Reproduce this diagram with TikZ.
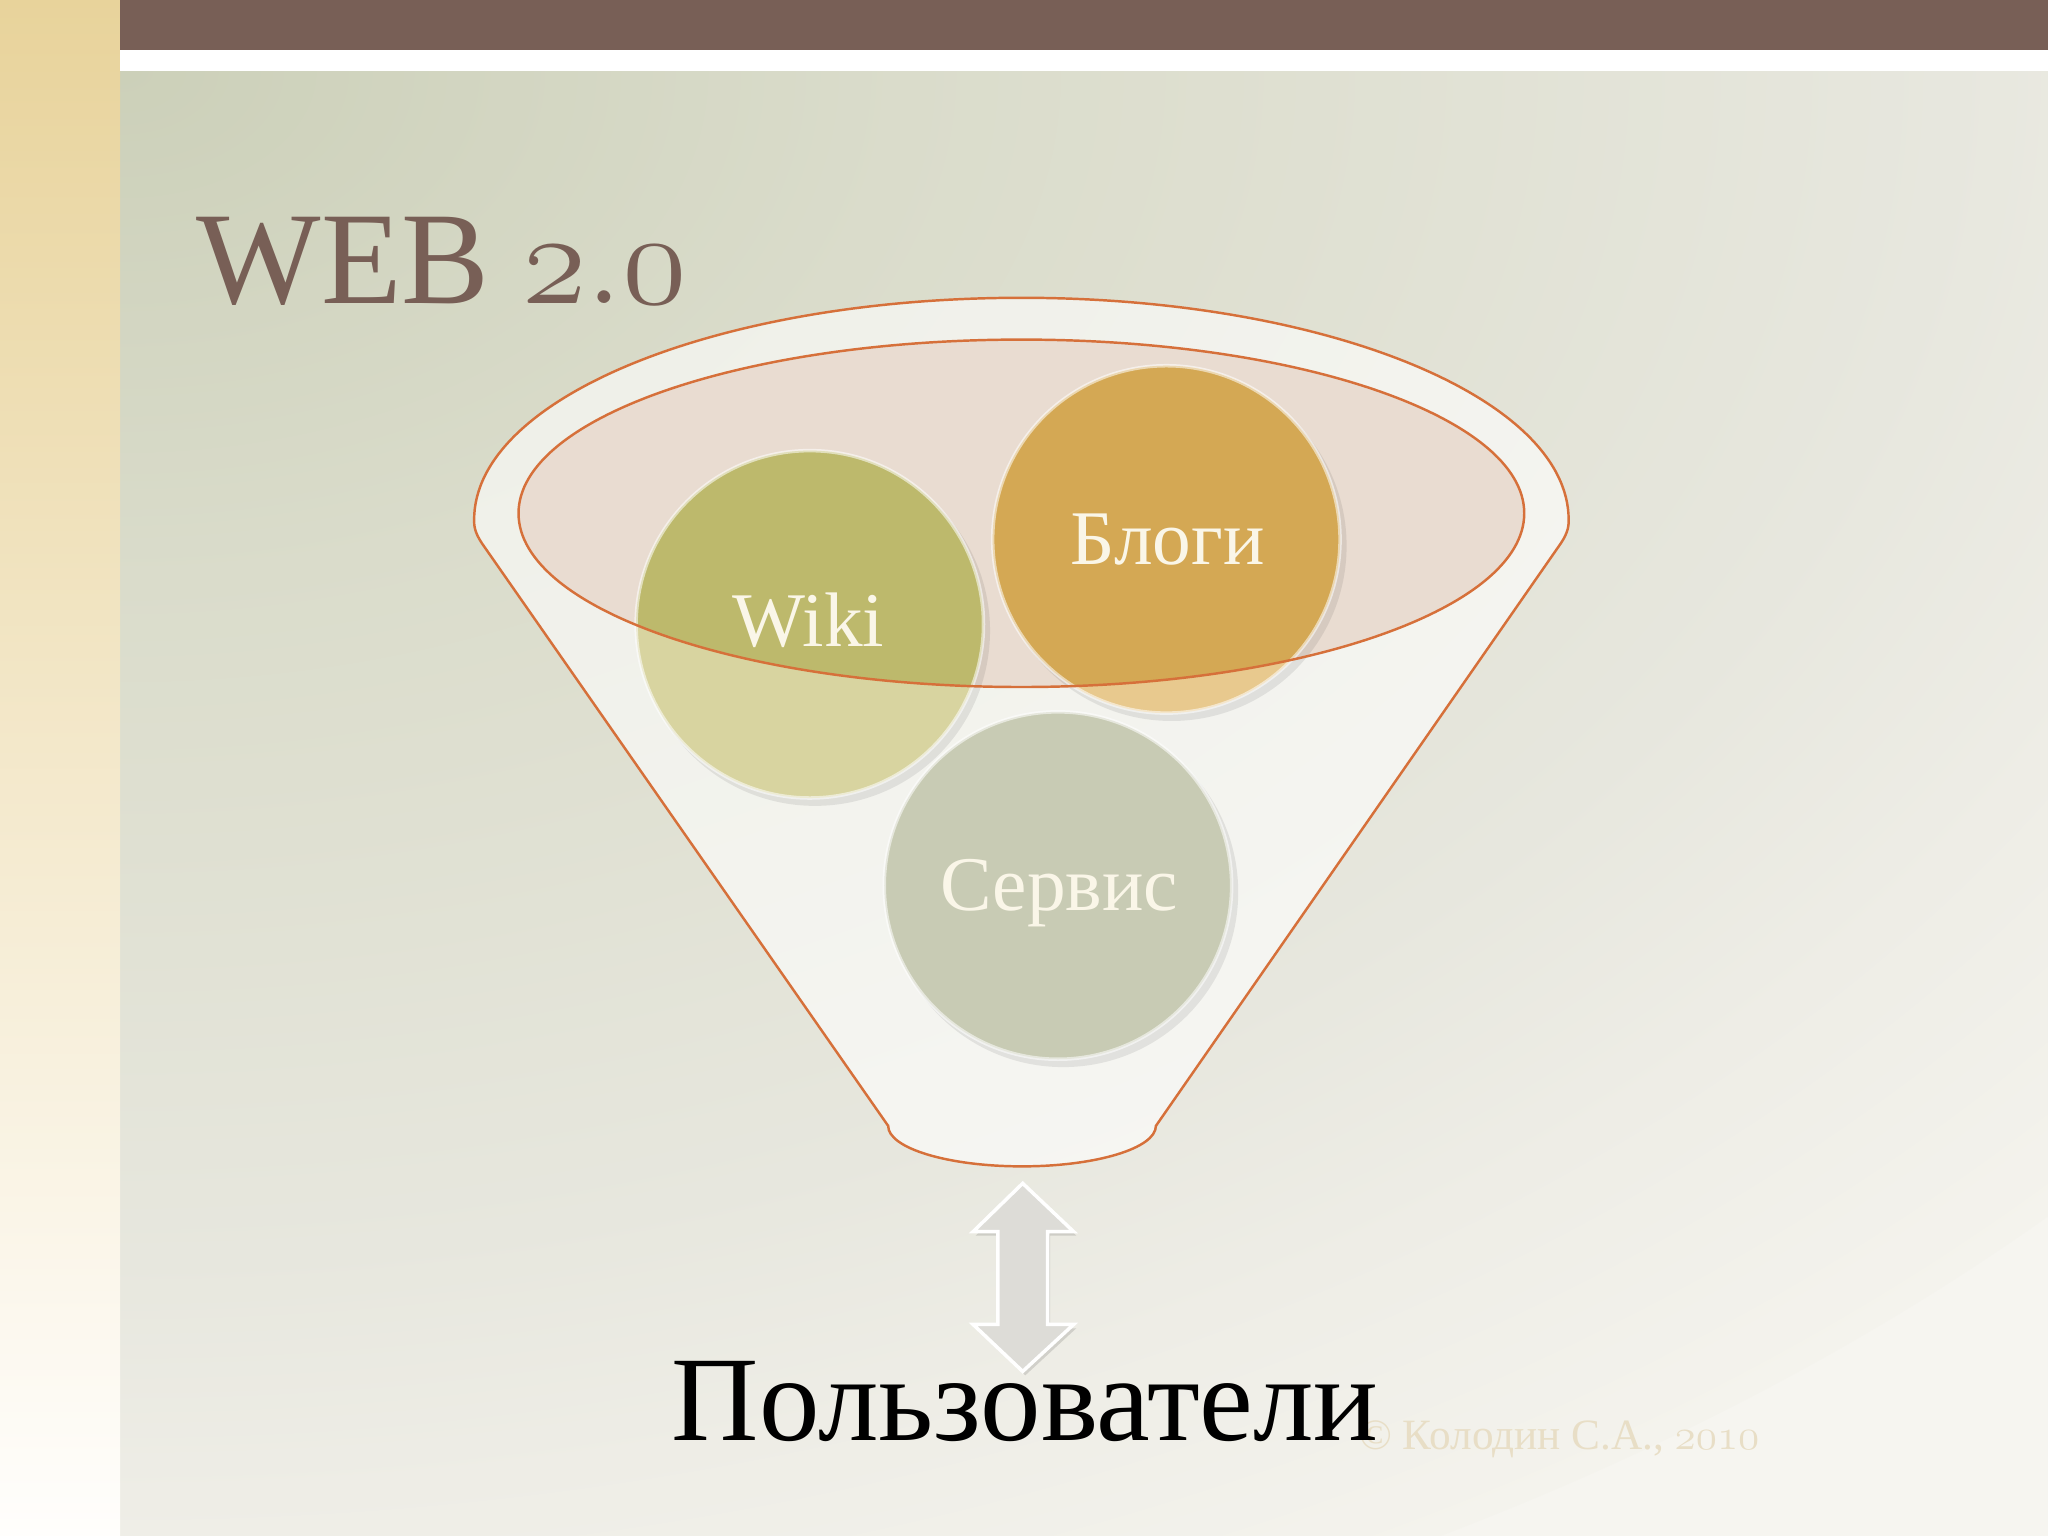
\documentclass[tikz,border=0pt]{standalone}
\usepackage{fix-cm}
\usepackage[no-math]{fontspec}
\setmainfont{Liberation Serif}
\definecolor{brownbar}{RGB}{120,95,86}
\definecolor{orng}{RGB}{214,112,58}
\definecolor{bg0}{RGB}{204,208,185}
\definecolor{bg1}{RGB}{218,220,203}
\definecolor{bg2}{RGB}{222,223,208}
\definecolor{bg3}{RGB}{231,231,222}
\definecolor{bg4}{RGB}{238,237,230}
\definecolor{bg5}{RGB}{244,243,237}
\definecolor{bg6}{RGB}{246,245,240}
\definecolor{stripA}{RGB}{232,211,155}
\definecolor{stripB}{RGB}{245,230,204}
\definecolor{stripC}{RGB}{255,254,252}
\definecolor{pinkfill}{RGB}{233,220,209}
\definecolor{wikiL}{RGB}{216,212,160}
\definecolor{wikiD}{RGB}{189,185,108}
\definecolor{blogL}{RGB}{232,201,142}
\definecolor{blogD}{RGB}{212,168,84}
\definecolor{servC}{RGB}{200,203,180}
\definecolor{cream}{RGB}{250,246,232}
\definecolor{arrowC}{RGB}{221,220,215}
\definecolor{copyC}{RGB}{232,222,198}
\pgfdeclareradialshading{bgrad}{\pgfpoint{0bp}{0bp}}{color(0bp)=(bg0); color(7.5bp)=(bg1); color(10.5bp)=(bg2); color(17.5bp)=(bg3); color(21bp)=(bg4); color(25bp)=(bg5); color(28bp)=(bg6); color(50bp)=(bg6)}
\tikzset{
  orline/.style={draw=orng, line width=0.7pt},
  ballshadow/.style={fill=black, opacity=0.08},
  ball/.style={circle, minimum size=3.474cm, inner sep=0pt, draw=white, draw opacity=0.55, line width=1pt},
  balltext/.style={anchor=base, text=cream, inner sep=0pt, font=\fontsize{22}{24}\selectfont},
}
\begin{document}
\begin{tikzpicture}[x=0.0130612cm, y=-0.0130612cm]
\useasboundingbox (0,0) rectangle (1568,1176);
% backgrounds
\begin{scope}
\clip (92,0) rectangle (1568,1176);
\fill[bg6] (92,0) rectangle (1568,1176);
\shade[shading=bgrad] (92,54) ellipse[x radius=2000, y radius=1300];
\end{scope}
\shade[top color=stripA, middle color=stripB, bottom color=stripC] (0,0) rectangle (92,1176);
\fill[brownbar] (92,0) rectangle (1568,38);
\fill[white] (92,38) rectangle (1568,54);
% funnel
\path[fill=white, fill opacity=0.6, orline] (680,862) -- (369,416) .. controls (363,407) and (363,402) .. (363,398)
  arc[start angle=180, end angle=360, x radius=419, y radius=170]
  .. controls (1201,402) and (1201,407) .. (1195,416) -- (885,862)
  arc[start angle=0, end angle=180, x radius=102.5, y radius=31] -- cycle;
\fill[pinkfill] (782,393) ellipse[x radius=385, y radius=133];
% shadows
\fill[ballshadow] (624,483) circle[radius=134];
\fill[ballshadow] (897,418) circle[radius=134];
\fill[ballshadow] (814,683) circle[radius=134];
% ball fills
\fill[wikiL] (620,478) circle[radius=133];
\fill[blogL] (893,413) circle[radius=133];
\fill[servC] (810,678) circle[radius=133];
\begin{scope}
\clip (782,393) ellipse[x radius=385, y radius=133];
\fill[wikiD] (620,478) circle[radius=133];
\fill[blogD] (893,413) circle[radius=133];
\end{scope}
\node[ball] (wiki) at (620,478) {};
\node[ball] (blogi) at (893,413) {};
\node[ball] (servis) at (810,678) {};
\draw[orline] (782,393) ellipse[x radius=385, y radius=133];
\node[balltext] (wikiT) at (619,495) {Wiki};
\node[balltext] (blogiT) at (894,432) {Блоги};
\node[balltext] (servisT) at (811,697) {Сервис};
% arrow
\fill[black, opacity=0.12] (785,909) -- (824,946) -- (804,946) -- (804,1017) -- (824,1017) -- (785,1053) -- (747,1017) -- (766,1017) -- (766,946) -- (747,946) -- cycle;
\path[fill=arrowC, draw=white, line width=1pt] (783,906) -- (822,943) -- (802,943) -- (802,1014) -- (822,1014) -- (783,1050) -- (745,1014) -- (764,1014) -- (764,943) -- (745,943) -- cycle;
% texts
\node[anchor=base west, text=brownbar, inner sep=0pt, font=\fontsize{37.5}{40}\selectfont] (title) at (150,232) {WEB $\mathnormal{2.0}$};
\node[anchor=base west, text=copyC, inner sep=0pt, font=\fontsize{12.3}{14}\selectfont] (copy) at (1040,1110) {© Колодин С.А., $\mathnormal{2010}$};
\node[anchor=base, inner sep=0pt, font=\fontsize{34.4}{40}\selectfont] (users) at (785,1103) {Пользователи};
\end{tikzpicture}
\end{document}
